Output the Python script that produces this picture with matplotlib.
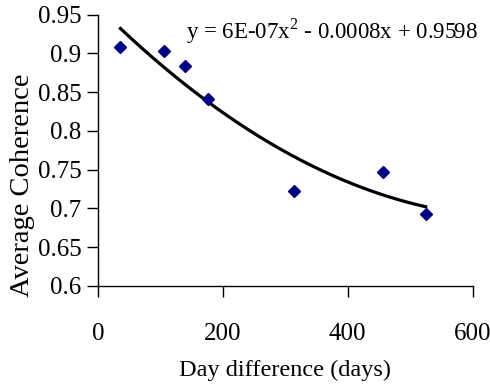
import numpy as np
import matplotlib
matplotlib.use("Agg")
import matplotlib.pyplot as plt

# Data
day_diff = [36, 105, 140, 176, 314, 456, 525]
avg_coherence = [0.908, 0.903, 0.884, 0.841, 0.723, 0.747, 0.693]
x_ticks = [0, 200, 400, 600]
y_ticks = [0.6, 0.65, 0.7, 0.75, 0.8, 0.85, 0.9, 0.95]
y_tick_labels = ["0.6", "0.65", "0.7", "0.75", "0.8", "0.85", "0.9", "0.95"]
equation = "y = 6E-07x$^{2}$ - 0.0008x + 0.9598"

plt.rcParams['font.family'] = ['Liberation Serif', 'DejaVu Serif']
plt.rcParams['mathtext.fontset'] = 'custom'
plt.rcParams['mathtext.rm'] = 'Liberation Serif'

fig = plt.figure(figsize=(4.9, 3.87), dpi=100)
ax = fig.add_axes([0.2, 0.261, 0.7643, 0.701])

# polynomial trendline (order 2) fitted to the data
coef = np.polyfit(day_diff, avg_coherence, 2)
xs = np.linspace(min(day_diff), max(day_diff), 200)
ax.plot(xs, np.polyval(coef, xs), color='black', lw=2.3, zorder=2)

ax.plot(day_diff, avg_coherence, linestyle='none', marker='D', markersize=6,
        color='#000080', zorder=3)

ax.set_xlim(0, 600)
ax.set_ylim(0.6, 0.95)
ax.set_xticks(x_ticks)
ax.set_yticks(y_ticks)
ax.set_yticklabels(y_tick_labels)
for s in ['top', 'right']:
    ax.spines[s].set_visible(False)
for s in ['left', 'bottom']:
    ax.spines[s].set_linewidth(1.0)
ax.tick_params(axis='both', direction='out', length=8, width=1.0,
               labelsize=18, pad=4)
ax.tick_params(axis='x', pad=19)

ax.text(0.235, 0.995, equation, transform=ax.transAxes, fontsize=16.5,
        ha='left', va='top')

fig.text(0.5818, 1 - 376 / 387, "Day difference (days)", ha='center',
         va='baseline', fontsize=17.5)
fig.text(0.045, 1 - 185 / 387, "Average Coherence", rotation=90,
         ha='center', va='center', fontsize=20.5)

fig.savefig("out.png", dpi=100)
